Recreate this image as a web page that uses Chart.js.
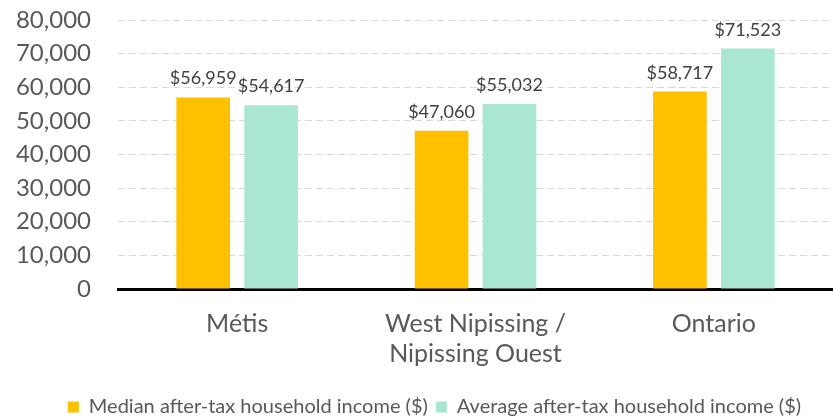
<!DOCTYPE html>
<html>
<head>
<meta charset="utf-8">
<script src="https://cdn.jsdelivr.net/npm/chart.js@4"></script>
<style>
  html, body { margin: 0; padding: 0; background: #fff; }
  #wrap { width: 833px; height: 419px; }
</style>
</head>
<body>
<div id="wrap"><canvas id="chart"></canvas></div>
<script>
// data
const categories = ['Métis', ['West Nipissing /', 'Nipissing Ouest'], 'Ontario'];
const medianIncome = [56959, 47060, 58717];
const averageIncome = [54617, 55032, 71523];
const seriesNames = ['Median after-tax household income ($)', 'Average after-tax household income ($)'];
const yTicks = [0, 10000, 20000, 30000, 40000, 50000, 60000, 70000, 80000];

const FONT = 'Lato, "Open Sans", sans-serif';

// draws "$56,959" style labels above each bar
const barLabels = {
    id: 'barLabels',
    afterDatasetsDraw(chart) {
        const ctx = chart.ctx;
        ctx.save();
        ctx.font = '18px ' + FONT;
        ctx.fillStyle = '#404040';
        ctx.textAlign = 'center';
        ctx.textBaseline = 'alphabetic';
        chart.data.datasets.forEach((ds, i) => {
            chart.getDatasetMeta(i).data.forEach((bar, j) => {
                ctx.fillText('$' + ds.data[j].toLocaleString('en-US'), bar.x, bar.y - 13);
            });
        });
        ctx.restore();
    }
};

// legend in the original sits a bit right of centre
const legendShift = {
    id: 'legendShift',
    afterLayout(chart) {
        chart.legend.left = 36;
    }
};

new Chart(document.getElementById('chart'), {
    type: 'bar',
    data: {
        labels: categories,
        datasets: [{
            label: seriesNames[0],
            data: medianIncome,
            backgroundColor: '#FFC000'
        }, {
            label: seriesNames[1],
            data: averageIncome,
            backgroundColor: '#A9E7D3'
        }]
    },
    options: {
        responsive: true,
        maintainAspectRatio: false,
        animation: false,
        layout: { padding: { top: 0, right: 0, left: 0, bottom: -8 } },
        datasets: {
            bar: { categoryPercentage: 0.57, barPercentage: 0.79 }
        },
        scales: {
            x: {
                afterFit: axis => { axis.paddingLeft = 0; axis.paddingRight = 0; },
                grid: { display: false, drawTicks: false },
                border: { display: true, color: '#000', width: 3 },
                ticks: {
                    color: '#595959',
                    padding: 20,
                    autoSkip: false,
                    maxRotation: 0,
                    font: { family: FONT, size: 25, lineHeight: 1.2 }
                }
            },
            y: {
                min: 0,
                max: 80000,
                afterBuildTicks: axis => { axis.ticks = yTicks.map(v => ({ value: v })); },
                afterFit: axis => { axis.width = 118; axis.paddingTop = 20; axis.paddingBottom = 0; },
                grid: {
                    color: ctx => ctx.tick && ctx.tick.value === 0 ? 'rgba(0,0,0,0)' : '#D9D9D9',
                    lineWidth: 1,
                    drawTicks: false
                },
                border: { display: false, dash: [7, 4] },
                ticks: {
                    color: '#595959',
                    padding: 27,
                    autoSkip: false,
                    font: { family: FONT, size: 24 },
                    callback: v => v.toLocaleString('en-US')
                }
            }
        },
        plugins: {
            legend: {
                position: 'bottom',
                labels: {
                    color: '#595959',
                    font: { family: FONT, size: 20 },
                    boxWidth: 11,
                    boxHeight: 11,
                    padding: 8
                }
            },
            tooltip: { enabled: false }
        }
    },
    plugins: [barLabels, legendShift]
});
</script>
</body>
</html>
